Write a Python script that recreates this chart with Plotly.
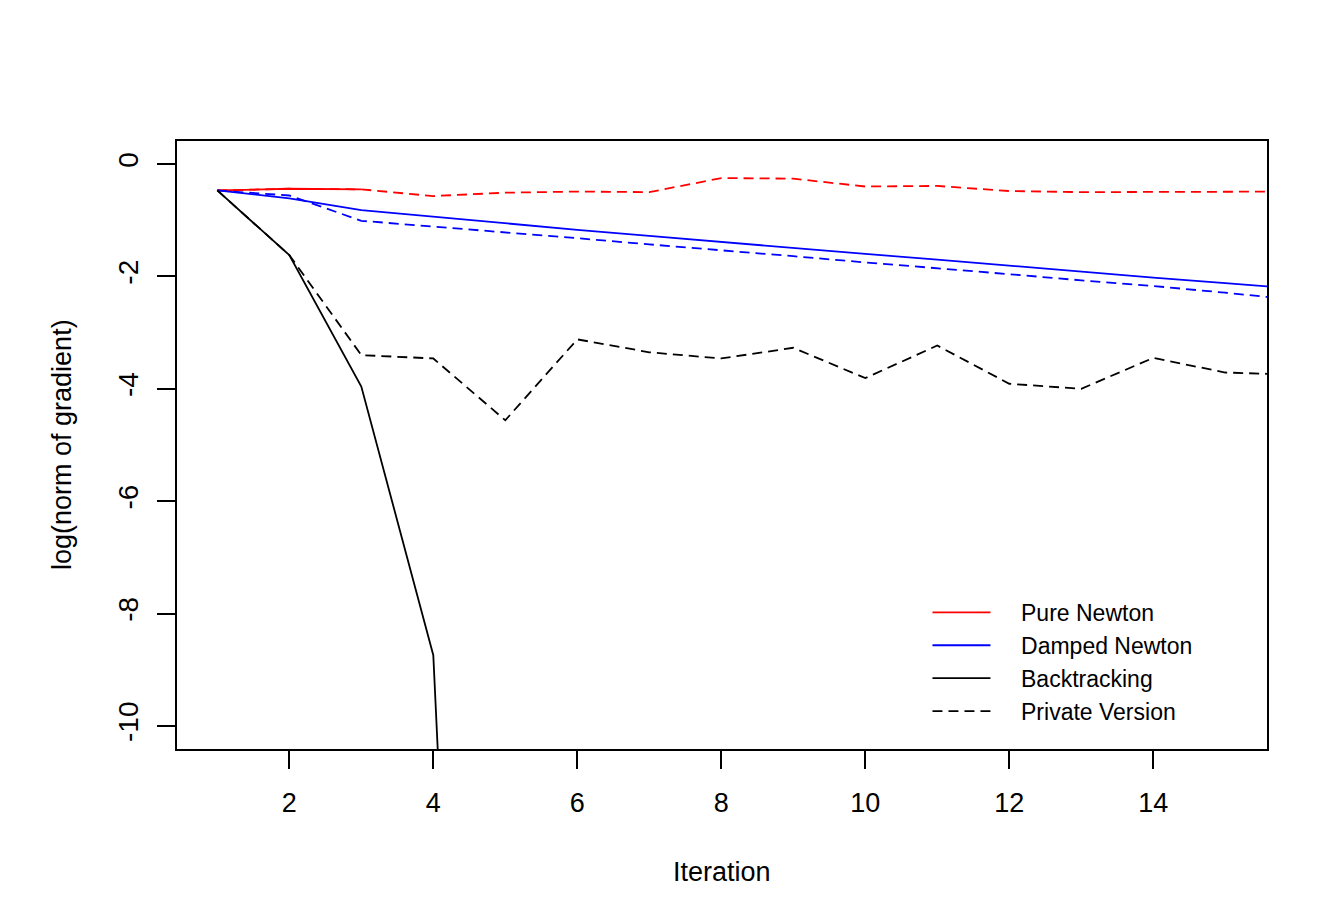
import plotly.graph_objects as go

# iterations and log(norm of gradient) for each method
iters = [1, 2, 3, 4, 5, 6, 7, 8, 9, 10, 11, 12, 13, 14, 15, 16]

pure_newton = [-0.47, -0.44, -0.45]
pure_newton_priv = [-0.47, -0.44, -0.45, -0.57, -0.51, -0.49, -0.50, -0.25,
                    -0.26, -0.40, -0.39, -0.48, -0.50, -0.50, -0.49, -0.49]

damped_newton = [-0.47, -0.61, -0.82, -0.94, -1.05, -1.17, -1.28, -1.39,
                 -1.49, -1.60, -1.70, -1.81, -1.91, -2.02, -2.12, -2.22]
damped_newton_priv = [-0.47, -0.56, -1.01, -1.11, -1.22, -1.32, -1.43, -1.53,
                      -1.64, -1.75, -1.85, -1.96, -2.07, -2.17, -2.29, -2.42]

backtracking = [-0.47, -1.62, -3.96, -8.74, -36.04]
backtracking_priv = [-0.47, -1.62, -3.40, -3.46, -4.56, -3.12, -3.35, -3.46,
                     -3.27, -3.81, -3.23, -3.91, -4.00, -3.45, -3.71, -3.75]

x_ticks = [2, 4, 6, 8, 10, 12, 14]
y_ticks = [0, -2, -4, -6, -8, -10]
y_labels = ["0", "-2", "-4", "-6", "-8", "-10"]  # plain hyphens like R

font = "Liberation Sans, Arial, Helvetica, sans-serif"
dash = "10px,6px"
lw = 1.8
pad = "\u00a0" * 4  # gap between legend line and label

fig = go.Figure()

# solid lines (shown in legend)
fig.add_trace(go.Scatter(x=iters[:len(pure_newton)], y=pure_newton, mode="lines",
                         name=pad + "Pure Newton", line=dict(color="red", width=lw)))
fig.add_trace(go.Scatter(x=iters, y=damped_newton, mode="lines",
                         name=pad + "Damped Newton", line=dict(color="blue", width=lw)))
fig.add_trace(go.Scatter(x=iters[:len(backtracking)], y=backtracking, mode="lines",
                         name=pad + "Backtracking", line=dict(color="black", width=lw)))

# private versions (dashed)
fig.add_trace(go.Scatter(x=iters, y=pure_newton_priv, mode="lines", showlegend=False,
                         line=dict(color="red", width=lw, dash=dash)))
fig.add_trace(go.Scatter(x=iters, y=damped_newton_priv, mode="lines", showlegend=False,
                         line=dict(color="blue", width=lw, dash=dash)))
fig.add_trace(go.Scatter(x=iters, y=backtracking_priv, mode="lines", showlegend=False,
                         line=dict(color="black", width=lw, dash=dash)))

# legend-only entry for the dashed style
fig.add_trace(go.Scatter(x=[None], y=[None], mode="lines", name=pad + "Private Version",
                         line=dict(color="black", width=lw, dash=dash)))

fig.update_layout(
    width=1339, height=924,
    margin=dict(l=169, r=80, t=133, b=183),
    plot_bgcolor="white", paper_bgcolor="white",
    font=dict(family=font, size=27, color="black"),
    showlegend=True,
    legend=dict(x=0.6885, y=0.26, xanchor="left", yanchor="top",
                bgcolor="rgba(0,0,0,0)", font=dict(size=23),
                itemwidth=58, tracegroupgap=0),
    annotations=[
        dict(text="Iteration", xref="paper", yref="paper", x=0.5, y=0,
             yshift=-123, showarrow=False, xanchor="center", yanchor="middle",
             font=dict(size=27)),
        dict(text="log(norm of gradient)", xref="paper", yref="paper", x=0, y=0.5,
             xshift=-115, showarrow=False, textangle=-90, xanchor="center",
             yanchor="middle", font=dict(size=27)),
    ],
)

fig.update_xaxes(range=[0.44, 15.58], tickvals=x_ticks, ticks="outside", ticklen=18,
                 tickwidth=1.5, tickcolor="black", showgrid=False, zeroline=False,
                 showline=True, linecolor="black", linewidth=1.8, mirror=True,
                 ticklabelstandoff=11)
fig.update_yaxes(range=[-10.41, 0.41], tickvals=y_ticks, ticktext=y_labels,
                 ticks="outside", ticklen=18, tickfont=dict(size=28),
                 tickwidth=1.5, tickcolor="black", showgrid=False, zeroline=False,
                 showline=True, linecolor="black", linewidth=1.8, mirror=True,
                 tickangle=-90, ticklabelstandoff=8)

fig.write_html("out.html")
